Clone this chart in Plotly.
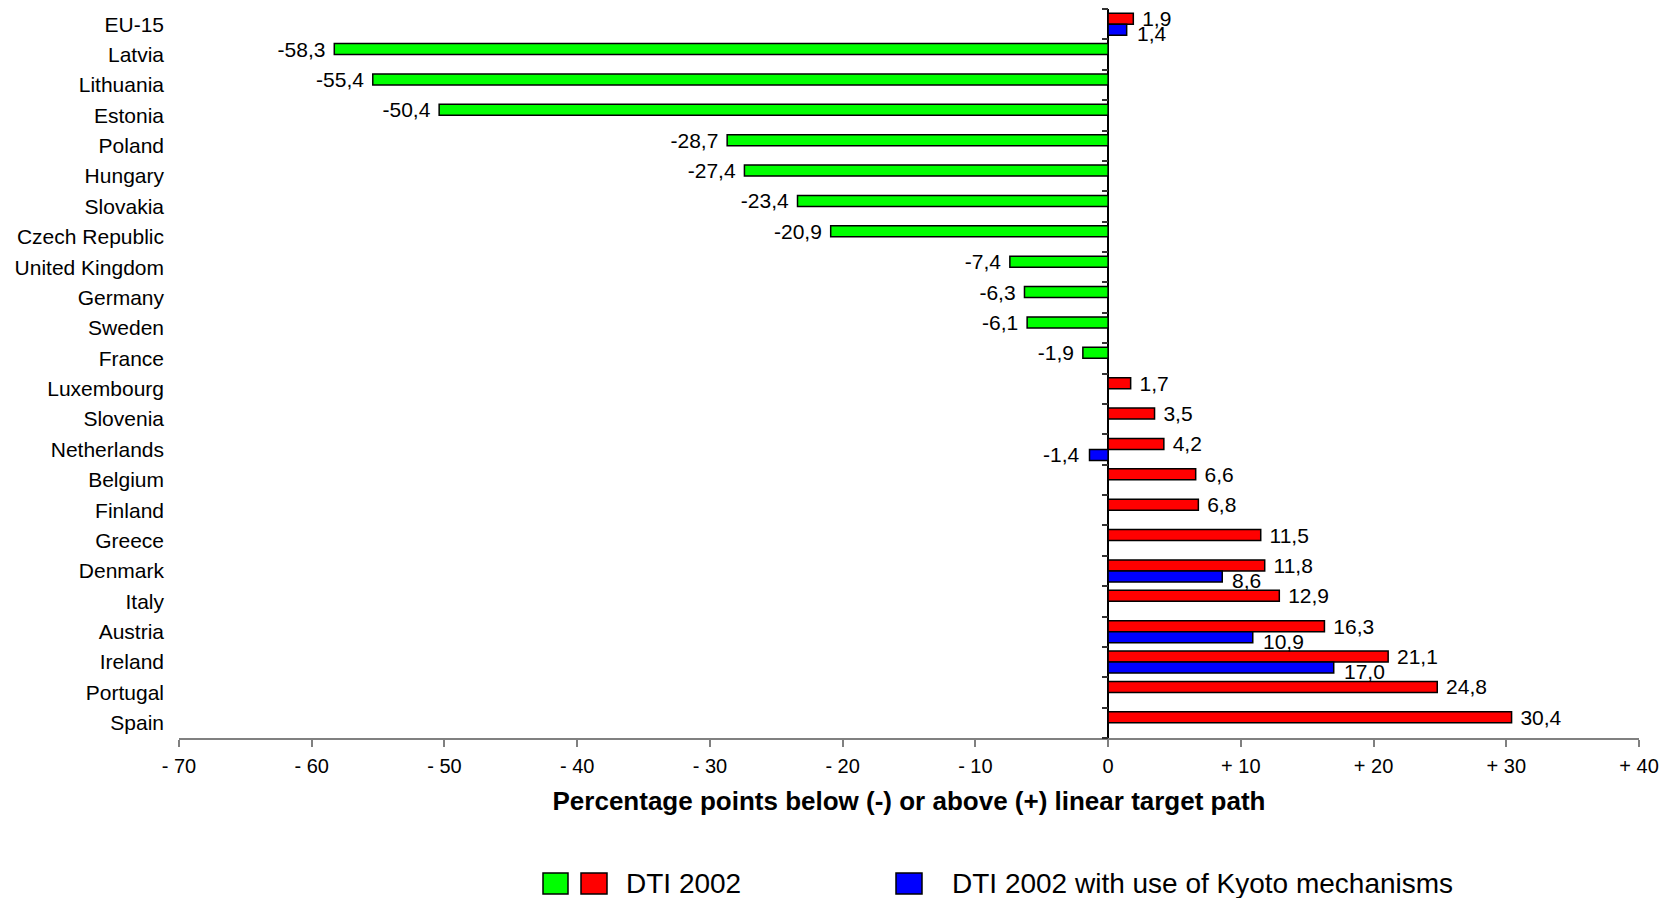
import plotly.graph_objects as go

categories = ["EU-15", "Latvia", "Lithuania", "Estonia", "Poland", "Hungary", "Slovakia",
              "Czech Republic", "United Kingdom", "Germany", "Sweden", "France", "Luxembourg",
              "Slovenia", "Netherlands", "Belgium", "Finland", "Greece", "Denmark", "Italy",
              "Austria", "Ireland", "Portugal", "Spain"]
dti_2002 = [1.9, -58.3, -55.4, -50.4, -28.7, -27.4, -23.4, -20.9, -7.4, -6.3, -6.1, -1.9,
            1.7, 3.5, 4.2, 6.6, 6.8, 11.5, 11.8, 12.9, 16.3, 21.1, 24.8, 30.4]
dti_kyoto = [1.4, None, None, None, None, None, None, None, None, None, None, None,
             None, None, -1.4, None, None, None, 8.6, None, 10.9, 17.0, None, None]
x_tickvals = [-70, -60, -50, -40, -30, -20, -10, 0, 10, 20, 30, 40]
x_ticktext = ["- 70", "- 60", "- 50", "- 40", "- 30", "- 20", "- 10", "0",
              "+ 10", "+ 20", "+ 30", "+ 40"]
legend_labels = ["DTI 2002", "DTI 2002 with use of Kyoto mechanisms"]

GREEN, RED, BLUE = "#00FF00", "#FF0000", "#0000FF"
FONT = "Liberation Sans, Arial, sans-serif"
NBSP = "\u00a0"
BARGAP = 0.275


def fmt(v):
    if v is None:
        return ""
    return f"{v:.1f}".replace(".", ",")


def fmt_pad(v):
    if v is None:
        return ""
    s = fmt(v)
    return NBSP + s if v >= 0 else s + NBSP


fig = go.Figure()
fig.add_trace(go.Bar(
    y=categories, x=dti_2002, orientation="h", name=legend_labels[0],
    marker=dict(color=[RED if v >= 0 else GREEN for v in dti_2002],
                line=dict(color="black", width=1.5)),
    text=[fmt_pad(v) for v in dti_2002], textposition="outside", constraintext="none",
    cliponaxis=False, textfont=dict(size=21, color="black", family=FONT),
    showlegend=False,
))
fig.add_trace(go.Bar(
    y=categories, x=dti_kyoto, orientation="h", name=legend_labels[1],
    marker=dict(color=BLUE, line=dict(color="black", width=1.5)),
    textposition="none", showlegend=False,
))
# helper trace so the boundary-tick axis at x=0 is drawn
fig.add_trace(go.Scatter(x=[None], y=[None], yaxis="y2", showlegend=False, hoverinfo="skip"))

W, H = 1671, 898
L, R, T, B = 179, 32, 9, 160
pw, ph = W - L - R, H - T - B


def px(xp):
    return (xp - L) / pw


def py(yp):
    return (H - B - yp) / ph


zero_pos = (0 - (-70)) / 110.0
blue_offset = (1 - BARGAP) / 4.0  # centre of second bar in a group

annotations = []
for i, v in enumerate(dti_kyoto):
    if v is None:
        continue
    annotations.append(dict(
        text=fmt(v), x=v, y=i + blue_offset, xref="x", yref="y",
        xanchor="left" if v >= 0 else "right", yanchor="middle",
        xshift=8 if v >= 0 else -8, yshift=-4 if v >= 0 else 0,
        showarrow=False, font=dict(size=21, color="black", family=FONT)))

shapes = []
for (x0, x1), col in zip([(543, 568), (581, 607), (896, 922)], [GREEN, RED, BLUE]):
    shapes.append(dict(type="rect", xref="paper", yref="paper",
                       x0=px(x0), x1=px(x1), y0=py(894), y1=py(873),
                       fillcolor=col, line=dict(color="black", width=1.5)))

annotations += [
    dict(text=legend_labels[0], xref="paper", yref="paper", x=px(624), y=py(884),
         xanchor="left", yanchor="middle", showarrow=False,
         font=dict(size=28, color="black", family=FONT)),
    dict(text=legend_labels[1], xref="paper", yref="paper", x=px(950), y=py(884),
         xanchor="left", yanchor="middle", showarrow=False,
         font=dict(size=28, color="black", family=FONT)),
]

fig.update_layout(
    width=W, height=H,
    margin=dict(l=L, r=R, t=T, b=B, pad=0),
    paper_bgcolor="white", plot_bgcolor="white",
    barmode="group", bargap=BARGAP, bargroupgap=0,
    font=dict(family=FONT, color="black", size=20),
    shapes=shapes, annotations=annotations,
    xaxis=dict(
        range=[-70, 40], tickmode="array", tickvals=x_tickvals, ticktext=x_ticktext,
        showgrid=False, zeroline=True, zerolinecolor="black", zerolinewidth=1.5,
        showline=True, linecolor="#808080", linewidth=2,
        ticks="outside", ticklen=7, tickwidth=1.5, tickcolor="#808080",
        tickfont=dict(size=20, family=FONT, color="black"), ticklabelstandoff=2,
        title=dict(text="Percentage points below (-) or above (+) linear target path",
                   font=dict(size=26, family=FONT, color="black", weight="bold"),
                   standoff=16),
    ),
    yaxis=dict(
        type="category", categoryorder="array", categoryarray=categories,
        range=[23.5, -0.5], showgrid=False, zeroline=False, showline=False,
        ticks="", ticklabelstandoff=14,
        tickfont=dict(size=21, family=FONT, color="black"),
    ),
    yaxis2=dict(
        overlaying="y", anchor="free", position=zero_pos, side="left",
        range=[23.5, -0.5], tickmode="array", tickvals=[i - 0.5 for i in range(25)],
        ticks="outside", ticklen=6, tickwidth=1.5, tickcolor="#333333",
        showticklabels=False, showgrid=False, zeroline=False, showline=False,
    ),
)

fig.write_html("out.html", config={"displayModeBar": False},
               post_script="document.body.style.margin='0';document.body.style.overflow='hidden';")
